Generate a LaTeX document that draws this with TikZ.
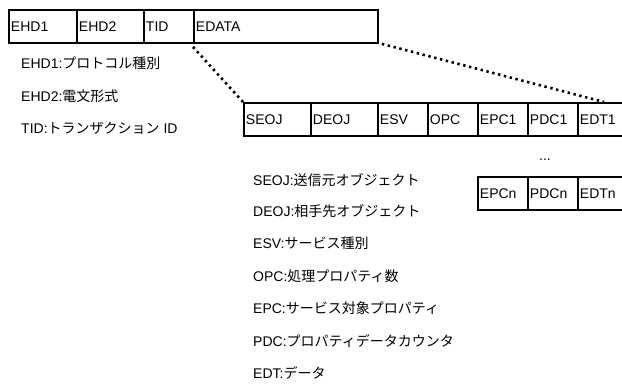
\documentclass[tikz,border=0pt]{standalone}
\usepackage{fontspec}
\setmainfont{Liberation Sans}
\newfontfamily\jp{Noto Sans CJK JP}
\newcommand\J[1]{{\jp #1}}
\begin{document}
\begin{tikzpicture}[x=1pt,y=-1pt,
  every node/.style={font=\fontsize{14}{16}\selectfont},
  cell/.style={draw, line width=1.9pt, minimum height=33pt, inner xsep=2pt, inner ysep=0pt,
    anchor=north west, align=left, text width=#1-4pt},
  lbl/.style={anchor=west, inner sep=0pt},
  dots/.style={line width=2.6pt, dash pattern=on 2.4pt off 3.6pt}]
\useasboundingbox (0,0) rectangle (622,388);
% row 1
\node[cell=68pt] (ehd1) at (8,9) {EHD1};
\node[cell=67pt] (ehd2) at (76,9) {EHD2};
\node[cell=50pt] (tid) at (143,9) {TID};
\node[cell=184pt] (edata) at (193,9) {EDATA};
% row 2
\node[cell=67pt] (seoj) at (243,102) {SEOJ};
\node[cell=67pt] (deoj) at (310,102) {DEOJ};
\node[cell=50pt] (esv) at (377,102) {ESV};
\node[cell=50pt] (opc) at (427,102) {OPC};
\node[cell=50pt] (epc1) at (477,102) {EPC1};
\node[cell=50pt] (pdc1) at (527,102) {PDC1};
\node[cell=50pt] (edt1) at (577,102) {EDT1};
% row 3
\node[cell=50pt] (epcn) at (477,176) {EPCn};
\node[cell=50pt] (pdcn) at (527,176) {PDCn};
\node[cell=50pt] (edtn) at (577,176) {EDTn};
\node (ell) at (545,160) {...};
% dotted connectors
\coordinate (dend) at (604,102);
\draw[dots] ([yshift=-3pt]edata.south west) -- (seoj.north west);
\draw[dots] ([xshift=3pt]edata.south east) -- (dend);
% labels left
\node[lbl] (l1) at (21,63) {EHD1:\J{プロトコル種別}};
\node[lbl] (l2) at (21,96) {EHD2:\J{電文形式}};
\node[lbl] (l3) at (21,128) {TID:\J{トランザクション} ID};
% labels bottom
\node[lbl] (m1) at (253,180) {SEOJ:\J{送信元オブジェクト}};
\node[lbl] (m2) at (253,211) {DEOJ:\J{相手先オブジェクト}};
\node[lbl] (m3) at (253,243) {ESV:\J{サービス種別}};
\node[lbl] (m4) at (253,276) {OPC:\J{処理プロパティ数}};
\node[lbl] (m5) at (253,308) {EPC:\J{サービス対象プロパティ}};
\node[lbl] (m6) at (253,341) {PDC:\J{プロパティデータカウンタ}};
\node[lbl] (m7) at (253,373) {EDT:\J{データ}};
\end{tikzpicture}
\end{document}
